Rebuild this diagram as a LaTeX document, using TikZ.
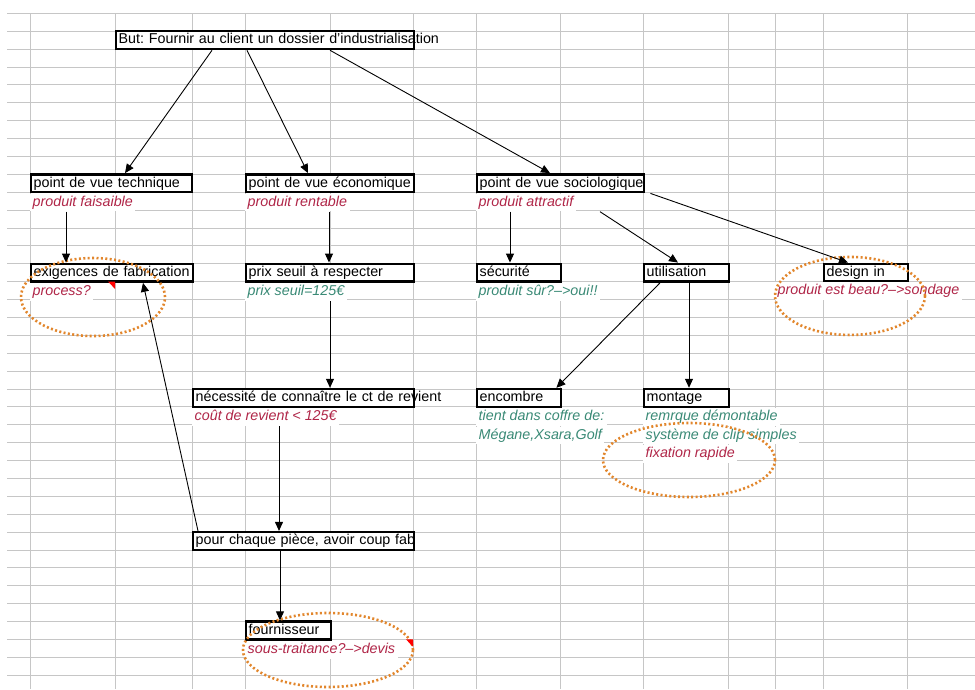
\documentclass[tikz,border=0pt]{standalone}
\usepackage{fontspec}
\setmainfont{Liberation Sans}
\usepackage{tikz}
\usetikzlibrary{positioning,arrows.meta}
\definecolor{xlRed}{RGB}{176,38,72}
\definecolor{xlGreen}{RGB}{58,138,118}
\definecolor{xlOrange}{RGB}{226,134,44}
\definecolor{xlGrid}{RGB}{198,198,198}
\frenchspacing

\begin{document}
\begin{tikzpicture}[x=1pt,y=-17.89pt,font=\fontsize{14.3}{17}\selectfont,
  gridline/.style={draw=xlGrid,line width=0.8pt},
  box/.style={draw,fill=white,line width=2.4pt,anchor=west,inner xsep=2.5pt,inner ysep=0pt,text height=11pt,text depth=3.5pt,minimum height=17.89pt,align=left},
  note/.style={fill=white,inner xsep=2.5pt,inner ysep=0pt,text height=11pt,text depth=3.5pt,minimum height=17.89pt,font=\fontsize{14.3}{17}\selectfont\itshape},
  link/.style={line width=0.9pt,-{Triangle[length=9pt,width=8pt]}},
  ring/.style={draw=xlOrange,line width=2.6pt,dash pattern=on 2pt off 2.4pt}]
\useasboundingbox[fill=white] (0,-0.7434) rectangle (975,37.77);
% --- sheet grid ---
\foreach \r in {0,...,37} \draw[gridline] (7,\r) -- (975,\r);
\foreach \c in {30,115,192,245,330,413,476,560,643,728,775,823,907} \draw[gridline] (\c,0) -- (\c,37.77);
% --- goal ---
\node[box,text width=293pt] (but) at (115,1.5) {\rlap{But: Fournir au client un dossier d'industrialisation}};
% --- three points of view ---
\node[box,text width=156pt] (tech) at (30,9.5) {\mbox{point de vue technique}};
\node[note,text=xlRed,below right=0pt and 0pt of tech.south west] (ntech) {produit faisaible};
\node[box,text width=163pt] (eco) at (245,9.5) {\mbox{point de vue \'economique}};
\node[note,text=xlRed,below right=0pt and 0pt of eco.south west] (neco) {produit rentable};
\node[box,text width=162pt] (socio) at (476,9.5) {\mbox{point de vue sociologique}};
\node[note,text=xlRed,below right=0pt and 0pt of socio.south west] (nsocio) {produit attractif};
% --- second level ---
\node[box,text width=157pt] (exig) at (30,14.5) {\mbox{exigences de fabrication}};
\node[note,text=xlRed,below right=0pt and 0pt of exig.south west] (nexig) {process?};
\node[box,text width=163pt] (prix) at (245,14.5) {\mbox{prix seuil \`a respecter}};
\node[note,text=xlGreen,below right=0pt and 0pt of prix.south west] (nprix) {prix seuil=125€};
\node[box,text width=79pt] (secu) at (476,14.5) {\mbox{s\'ecurit\'e}};
\node[note,text=xlGreen,below right=0pt and 0pt of secu.south west] (nsecu) {produit s\^ur?-->oui!!};
\node[box,text width=80pt] (util) at (643,14.5) {\mbox{utilisation}};
\node[box,text width=79pt] (design) at (823,14.5) {\mbox{design in}};
\node[note,text=xlRed,anchor=north west] (ndesign) at (775,15) {produit est beau?-->sondage};
% --- cost / use ---
\node[box,text width=216pt] (nec) at (192,21.5) {\rlap{n\'ecessit\'e de conna\^itre le ct de revient}};
\node[note,text=xlRed,below right=0pt and 0pt of nec.south west] (nnec) {co\^ut de revient < 125€};
\node[box,text width=79pt] (enc) at (476,21.5) {\mbox{encombre}};
\node[note,text=xlGreen,below right=0pt and 0pt of enc.south west] (nenc1) {tient dans coffre de:};
\node[note,text=xlGreen,below right=0pt and 0pt of nenc1.south west] (nenc2) {M\'egane,Xsara,Golf};
\node[box,text width=80pt] (mont) at (643,21.5) {\mbox{montage}};
\node[note,text=xlGreen,below right=0pt and 0pt of mont.south west] (nmont1) {remrque d\'emontable};
\node[note,text=xlGreen,below right=0pt and 0pt of nmont1.south west] (nmont2) {syst\`eme de clip simples};
\node[note,text=xlRed,below right=0pt and 0pt of nmont2.south west] (nmont3) {fixation rapide};
% --- parts ---
\node[box,text width=216pt] (pour) at (192,29.5) {\mbox{pour chaque pi\`ece, avoir coup fab}};
\node[box,text width=80pt] (four) at (245,34.5) {\mbox{fournisseur}};
\node[note,text=xlRed,below right=0pt and 0pt of four.south west] (nfour) {sous-traitance?-->devis};
% --- highlights ---
\draw[ring] (93,15.86) ellipse [x radius=72pt,y radius=39pt];
\draw[ring] (850,15.8) ellipse [x radius=75pt,y radius=39pt];
\draw[ring] (689,24.97) ellipse [x radius=86pt,y radius=37pt];
\draw[ring] (328,35.59) ellipse [x radius=85pt,y radius=37pt];
\fill[red] (108,15) -- (115,15) -- (115,15.4) -- cycle;
\fill[red] (406,35) -- (413,35) -- (413,35.4) -- cycle;
% --- links ---
\draw[link] ([xshift=97pt]but.south west) -- ([xshift=95pt]tech.north west);
\draw[link] ([xshift=132pt]but.south west) -- ([xshift=63pt]eco.north west);
\draw[link] ([xshift=215pt]but.south west) -- ([xshift=74pt]socio.north west);
\draw[link] ([xshift=36pt]ntech.south west) -- ([xshift=36pt]exig.north west);
\draw[link] ([xshift=84pt]neco.south west) -- ([xshift=84pt]prix.north west);
\draw[link] ([xshift=85pt]nprix.south west) -- ([xshift=138pt]nec.north west);
\draw[link] ([xshift=87pt]nnec.south west) -- ([xshift=87pt]pour.north west);
\draw[link] ([xshift=6pt]pour.north west) -- ([xshift=113pt]exig.south west);
\draw[link] ([xshift=88pt]pour.south west) -- ([xshift=35pt]four.north west);
\draw[link] ([xshift=34pt]nsocio.south west) -- ([xshift=34pt]secu.north west);
\draw[link] ([xshift=124pt]nsocio.south west) -- ([xshift=35pt]util.north west);
\draw[link] ([xshift=5pt]socio.south east) -- ([xshift=25pt]design.north west);
\draw[link] ([xshift=17pt]util.south west) -- ([xshift=-6pt]enc.north east);
\draw[link] ([xshift=46pt]util.south west) -- ([xshift=46pt]mont.north west);
\end{tikzpicture}
\end{document}
